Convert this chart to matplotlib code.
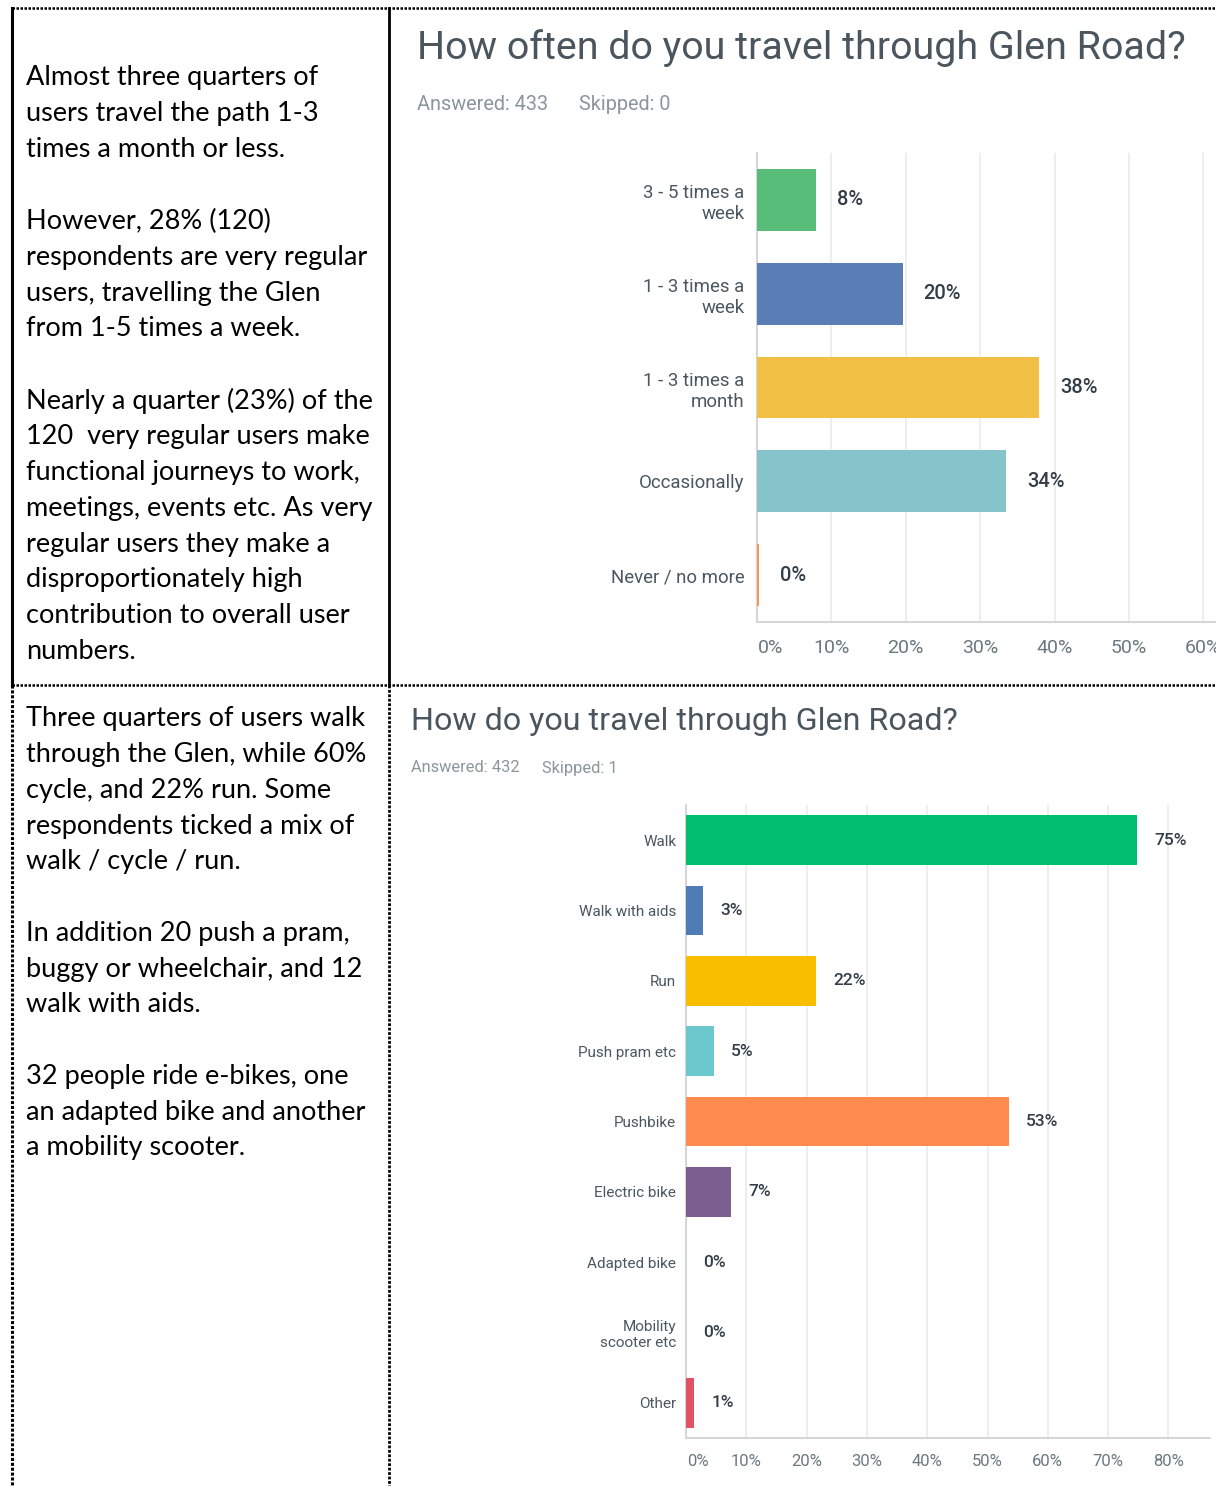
import matplotlib
matplotlib.use("Agg")
import matplotlib.pyplot as plt
from matplotlib.lines import Line2D

W, H = 1216, 1486

# ---------------- data ----------------
freq_categories = ["3 - 5 times a\nweek", "1 - 3 times a\nweek", "1 - 3 times a\nmonth",
                   "Occasionally", "Never / no more"]
freq_values = [7.9, 19.6, 37.9, 33.5, 0.3]
freq_labels = ["8%", "20%", "38%", "34%", "0%"]
freq_colors = ["#57bd78", "#5a7db5", "#f0bf44", "#84c4ca", "#f59a5c"]
freq_ticks = [0, 10, 20, 30, 40, 50, 60]

mode_categories = ["Walk", "Walk with aids", "Run", "Push pram etc", "Pushbike",
                   "Electric bike", "Adapted bike", "Mobility\nscooter etc", "Other"]
mode_values = [74.8, 2.8, 21.6, 4.6, 53.5, 7.4, 0.0, 0.0, 1.4]
mode_labels = ["75%", "3%", "22%", "5%", "53%", "7%", "0%", "0%", "1%"]
mode_colors = ["#00bf6f", "#507cb6", "#f9be00", "#6bc8cd", "#ff8b4f",
               "#7d5e90", "#ce5f8f", "#a0a0a0", "#e05264"]
mode_ticks = [0, 10, 20, 30, 40, 50, 60, 70, 80]

text_top = ["Almost three quarters of", "users travel the path 1-3", "times a month or less.", "",
            "However, 28% (120)", "respondents are very regular", "users, travelling the Glen",
            "from 1-5 times a week.", "",
            "Nearly a quarter (23%) of the", "120  very regular users make",
            "functional journeys to work,", "meetings, events etc. As very",
            "regular users they make a", "disproportionately high",
            "contribution to overall user", "numbers."]
text_bottom = ["Three quarters of users walk", "through the Glen, while 60%",
               "cycle, and 22% run. Some", "respondents ticked a mix of",
               "walk / cycle / run.", "",
               "In addition 20 push a pram,", "buggy or wheelchair, and 12",
               "walk with aids.", "",
               "32 people ride e-bikes, one", "an adapted bike and another",
               "a mobility scooter."]

SM_FONT = ["Roboto", "DejaVu Sans"]
DOC_FONT = ["Lato", "DejaVu Sans"]
TITLE_C = "#4a555e"
SUB_C = "#8a959c"
LAB_C = "#4b5760"
VAL_C = "#333e48"
TICK_C = "#6b787f"

fig = plt.figure(figsize=(W / 100, H / 100), dpi=100)
fig.patch.set_facecolor("white")


def fx(x):
    return x / W


def fy(y):
    return 1 - y / H


# ---------------- borders ----------------
dotted = (0, (1.0, 0.6))
fig.add_artist(Line2D([fx(12), fx(12)], [fy(8), fy(685)], color="black", lw=2.2))
fig.add_artist(Line2D([fx(389), fx(389)], [fy(8), fy(685)], color="black", lw=2.0))
fig.add_artist(Line2D([fx(12), fx(12)], [fy(685), fy(1486)], color="black", lw=2.2, linestyle=dotted))
fig.add_artist(Line2D([fx(389), fx(389)], [fy(685), fy(1486)], color="black", lw=2.0, linestyle=dotted))
fig.add_artist(Line2D([fx(12), fx(1216)], [fy(8), fy(8)], color="black", lw=1.8, linestyle=dotted))
fig.add_artist(Line2D([fx(12), fx(1216)], [fy(685), fy(685)], color="black", lw=1.8, linestyle=dotted))

# ---------------- left text ----------------
for i, line in enumerate(text_top):
    fig.text(fx(26), fy(78 + i * 35.85), line, fontsize=19.5, family=DOC_FONT,
             color="black", ha="left", va="center")
for i, line in enumerate(text_bottom):
    fig.text(fx(26), fy(719 + i * 35.75), line, fontsize=19.5, family=DOC_FONT,
             color="black", ha="left", va="center")


# ---------------- chart helper ----------------
def bar_chart(left, right, top, bottom, xmax, cats, vals, labels, colors, ticks,
              bar_h, lab_fs, val_fs, tick_fs, val_off, lab_pad, tick_y, lab_ls):
    ax = fig.add_axes([fx(left), fy(bottom), fx(right) - fx(left), fy(top) - fy(bottom)])
    n = len(cats)
    pos = list(range(n))
    ax.barh(pos, vals, height=bar_h, color=colors, zorder=3)
    ax.set_xlim(0, xmax)
    ax.set_ylim(n - 0.5, -0.5)
    ax.set_yticks(pos)
    ax.set_yticklabels(cats, fontsize=lab_fs, family=SM_FONT, color=LAB_C,
                       linespacing=lab_ls)
    ax.tick_params(axis="y", length=0, pad=lab_pad)
    ax.set_xticks(ticks)
    ax.set_xticklabels([])
    ax.tick_params(axis="x", length=0)
    ax.grid(axis="x", color="#ebebeb", lw=1.2, zorder=0)
    for s in ["top", "right"]:
        ax.spines[s].set_visible(False)
    for s in ["left", "bottom"]:
        ax.spines[s].set_color("#d6d6d6")
        ax.spines[s].set_linewidth(1.5)
    for p, v, lab in zip(pos, vals, labels):
        ax.annotate(lab, (v, p), xytext=(val_off, 0), textcoords="offset points",
                    ha="left", va="center", fontsize=val_fs, family=SM_FONT,
                    fontweight="medium", color=VAL_C)
    trans = ax.get_xaxis_transform()
    for t in ticks:
        if t == 0:
            ax.annotate(f"{t}%", (0, 0), xycoords=trans, xytext=(1, -tick_y),
                        textcoords="offset pixels", ha="left", va="center",
                        fontsize=tick_fs, family=SM_FONT, color=TICK_C,
                        annotation_clip=False)
        else:
            ax.annotate(f"{t}%", (t, 0), xycoords=trans, xytext=(0, -tick_y),
                        textcoords="offset pixels", ha="center", va="center",
                        fontsize=tick_fs, family=SM_FONT, color=TICK_C,
                        annotation_clip=False)
    return ax


# ---------------- top chart ----------------
fig.text(fx(417), fy(48), "How often do you travel through Glen Road?", fontsize=28.4,
         family=SM_FONT, fontweight="normal", color=TITLE_C, ha="left", va="center")
fig.text(fx(417), fy(104), "Answered: 433", fontsize=14.3, family=SM_FONT,
         color=SUB_C, ha="left", va="center")
fig.text(fx(579), fy(104), "Skipped: 0", fontsize=14.3, family=SM_FONT,
         color=SUB_C, ha="left", va="center")
bar_chart(757, 1216, 153, 622, (1216 - 757) / 7.44, freq_categories, freq_values,
          freq_labels, freq_colors, freq_ticks, bar_h=0.66, lab_fs=13.4, val_fs=14.5,
          tick_fs=14, val_off=15, lab_pad=9, tick_y=26, lab_ls=1.25)

# ---------------- bottom chart ----------------
fig.text(fx(411), fy(721), "How do you travel through Glen Road?", fontsize=23.2,
         family=SM_FONT, fontweight="normal", color=TITLE_C, ha="left", va="center")
fig.text(fx(411), fy(768), "Answered: 432", fontsize=11.8, family=SM_FONT,
         color=SUB_C, ha="left", va="center")
fig.text(fx(542), fy(768), "Skipped: 1", fontsize=11.8, family=SM_FONT,
         color=SUB_C, ha="left", va="center")
bar_chart(686, 1210, 805, 1438, (1210 - 686) / 6.03, mode_categories, mode_values,
          mode_labels, mode_colors, mode_ticks, bar_h=0.71, lab_fs=11, val_fs=12.5,
          tick_fs=12, val_off=12.5, lab_pad=7, tick_y=23, lab_ls=1.2)

fig.savefig("out.png", dpi=100, facecolor="white")
